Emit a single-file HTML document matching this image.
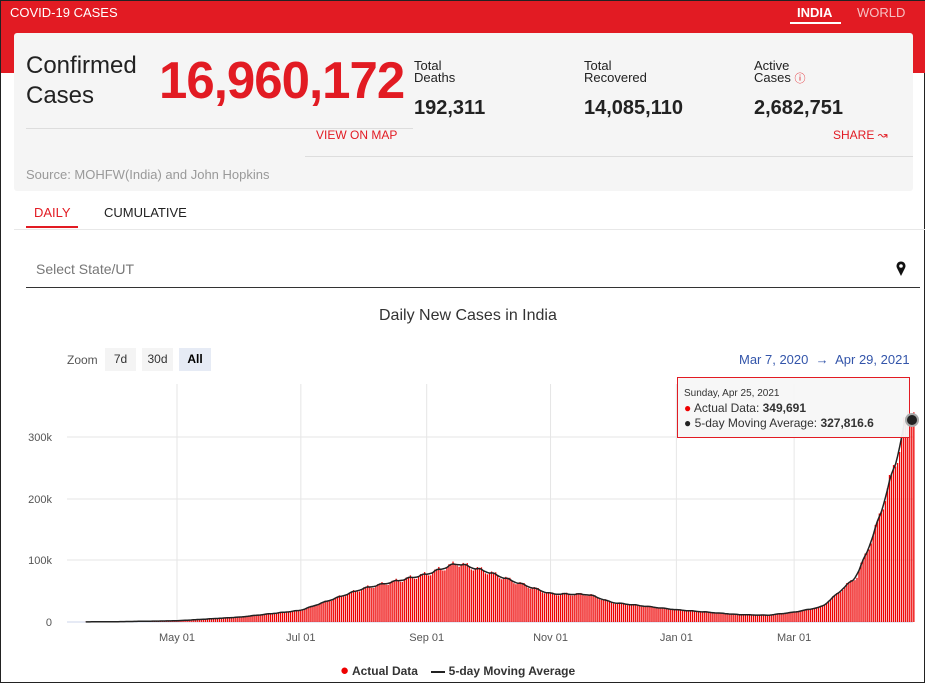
<!DOCTYPE html>
<html><head><meta charset="utf-8"><style>
*{margin:0;padding:0;box-sizing:border-box}
body{width:925px;height:683px;overflow:hidden;background:#fff;font-family:"Liberation Sans",sans-serif;position:relative;border:1px solid #222}
.red{position:absolute;left:0;top:0;width:925px;height:72px;background:#e21b23}
.abs{position:absolute;white-space:nowrap}
.card{position:absolute;left:13px;top:32px;width:899px;height:158px;background:#f5f5f5;border-radius:3px}
</style></head><body>
<div class="red"></div>
<div class="abs" style="left:9px;top:4px;color:#fff;font-size:13px">COVID-19 CASES</div>
<div class="abs" style="left:796px;top:4px;color:#fff;font-size:13px;font-weight:bold">INDIA</div>
<div class="abs" style="left:789px;top:21px;width:51px;height:2px;background:#fff"></div>
<div class="abs" style="left:856px;top:4px;color:#f6c0c2;font-size:13px">WORLD</div>
<div class="card"></div>
<div class="abs" style="left:25px;top:50px;font-size:24px;line-height:30px;color:#222">Confirmed<br>Cases</div>
<div class="abs" style="left:158px;top:50px;font-size:52px;font-weight:bold;color:#e21b23;letter-spacing:-1px;transform:scaleX(0.98);transform-origin:left">16,960,172</div>
<div class="abs" style="left:413px;top:59px;font-size:13px;line-height:12px;color:#222">Total<br>Deaths</div>
<div class="abs" style="left:413px;top:96px;font-size:20px;font-weight:bold;color:#222">192,311</div>
<div class="abs" style="left:583px;top:59px;font-size:13px;line-height:12px;color:#222">Total<br>Recovered</div>
<div class="abs" style="left:583px;top:96px;font-size:20px;font-weight:bold;color:#222">14,085,110</div>
<div class="abs" style="left:753px;top:59px;font-size:13px;line-height:12px;color:#222">Active<br>Cases <span style="color:#e21b23;font-size:11px">ⓘ</span></div>
<div class="abs" style="left:753px;top:96px;font-size:20px;font-weight:bold;color:#222">2,682,751</div>
<div class="abs" style="left:25px;top:127px;width:387px;height:1px;background:#ddd"></div>
<div class="abs" style="left:315px;top:127px;font-size:12px;color:#e21b23">VIEW ON MAP</div>
<div class="abs" style="left:832px;top:127px;font-size:12px;color:#e21b23">SHARE ↝</div>
<div class="abs" style="left:304px;top:155px;width:608px;height:1px;background:#ddd"></div>
<div class="abs" style="left:25px;top:166px;font-size:13px;color:#999">Source: MOHFW(India) and John Hopkins</div>
<div class="abs" style="left:33px;top:204px;font-size:13px;color:#e21b23">DAILY</div>
<div class="abs" style="left:25px;top:225px;width:52px;height:2px;background:#e21b23"></div>
<div class="abs" style="left:103px;top:204px;font-size:13px;color:#222">CUMULATIVE</div>
<div class="abs" style="left:13px;top:228px;width:912px;height:1px;background:#e8e8e8"></div>
<div class="abs" style="left:35px;top:260px;font-size:14px;color:#777">Select State/UT</div>
<svg class="abs" style="left:895px;top:260px" width="12" height="16"><path d="M5,15 L1,7 A4.5,4.5 0 1 1 9,7 Z" fill="#111"/><circle cx="5" cy="5" r="1.8" fill="#fff"/></svg>
<div class="abs" style="left:25px;top:286px;width:894px;height:1px;background:#333"></div>
<div class="abs" style="left:378px;top:306px;font-size:16px;color:#333">Daily New Cases in India</div>
<div class="abs" style="left:66px;top:352px;font-size:12px;color:#555">Zoom</div>
<div class="abs" style="left:104px;top:347px;width:31px;height:23px;background:#f4f4f4;font-size:12px;color:#333;text-align:center;line-height:23px">7d</div>
<div class="abs" style="left:141px;top:347px;width:31px;height:23px;background:#f4f4f4;font-size:12px;color:#333;text-align:center;line-height:23px">30d</div>
<div class="abs" style="left:178px;top:347px;width:32px;height:23px;background:#e6ebf5;font-size:12px;color:#000;font-weight:bold;text-align:center;line-height:23px">All</div>
<div class="abs" style="left:738px;top:351px;font-size:13px;color:#3355aa">Mar 7, 2020 &nbsp;→&nbsp; Apr 29, 2021</div>
<svg id="ch" class="abs" style="left:0;top:0" width="925" height="683"></svg>
<div class="abs" style="left:676px;top:376px;width:233px;height:61px;border:1px solid #e21b23;background:rgba(247,247,247,0.95);font-size:12px;color:#333;padding:8px 0 0 6px;line-height:15px">
<div style="font-size:10px">Sunday, Apr 25, 2021</div>
<div><span style="color:#e00">●</span> Actual Data: <b>349,691</b></div>
<div><span style="color:#222">●</span> 5-day Moving Average: <b>327,816.6</b></div>
</div>
<svg class="abs" style="left:904px;top:412px" width="16" height="16"><circle cx="7" cy="7" r="6" fill="#222" stroke="#aaa" stroke-width="2"/></svg>
<div class="abs" style="left:339px;top:661px;font-size:12px;font-weight:bold;color:#333"><span style="color:#e00;font-size:15px">●</span> Actual Data &nbsp;&nbsp; <span style="display:inline-block;width:14px;height:2px;background:#222;vertical-align:middle"></span> 5-day Moving Average</div>
<script>
var s='',X=function(d){return 176+(d-55)*2.03},Y=function(v){return 621-v*0.617};
var grid=[[0,621],[100,559],[200,498],[300,436]];
grid.forEach(function(g){s+='<line x1="66" x2="912" y1="'+g[1]+'" y2="'+g[1]+'" stroke="'+(g[0]?'#e6e6e6':'#ccd6eb')+'"/>';
s+='<text x="51" y="'+(g[1]+4)+'" font-size="11" fill="#555" text-anchor="end" font-family="Liberation Sans">'+(g[0]?g[0]+'k':'0')+'</text>';});
[[55,'May 01'],[116,'Jul 01'],[178,'Sep 01'],[239,'Nov 01'],[301,'Jan 01'],[359,'Mar 01']].forEach(function(t){var x=X(t[0]);
s+='<line x1="'+x+'" x2="'+x+'" y1="383" y2="621" stroke="#e6e6e6"/><text x="'+x+'" y="640" font-size="11" fill="#555" text-anchor="middle" font-family="Liberation Sans">'+t[1]+'</text>';});
var k=[[0,0],[25,0.5],[55,2],[86,8],[116,19],[147,55],[178,78],[193,96],[208,82],[222,65],[239,46],[258,45],[269,32],[301,20],[332,12],[346,11],[359,16],[373,25],[390,75],[399,150],[409,260],[414,330],[418,355]];
function f(d){for(var i=1;i<k.length;i++)if(d<=k[i][0]){var a=k[i-1],b=k[i];return a[1]+(b[1]-a[1])*(d-a[0])/(b[0]-a[0]);}return 355;}
var v=[];for(var d=0;d<=418;d++){v.push(f(d)*(1+0.06*Math.sin(d*0.9)-0.05*(d%7==1?1:0)));}
for(d=10;d<=418;d++){s+='<rect x="'+(X(d)-0.7)+'" y="'+Y(v[d])+'" width="1.3" height="'+(v[d]*0.617)+'" fill="#e00"/>';}
var p='';for(d=10;d<=416;d++){var m=0,n=0;for(var j=d-2;j<=d+2;j++)if(j>=0&&j<=418){m+=v[j];n++;}p+=(d==10?'M':'L')+X(d).toFixed(1)+','+Y(m/n).toFixed(1);}
s+='<path d="'+p+'" fill="none" stroke="#222" stroke-width="1.5"/>';
document.getElementById('ch').innerHTML=s;
</script>
</body></html>
